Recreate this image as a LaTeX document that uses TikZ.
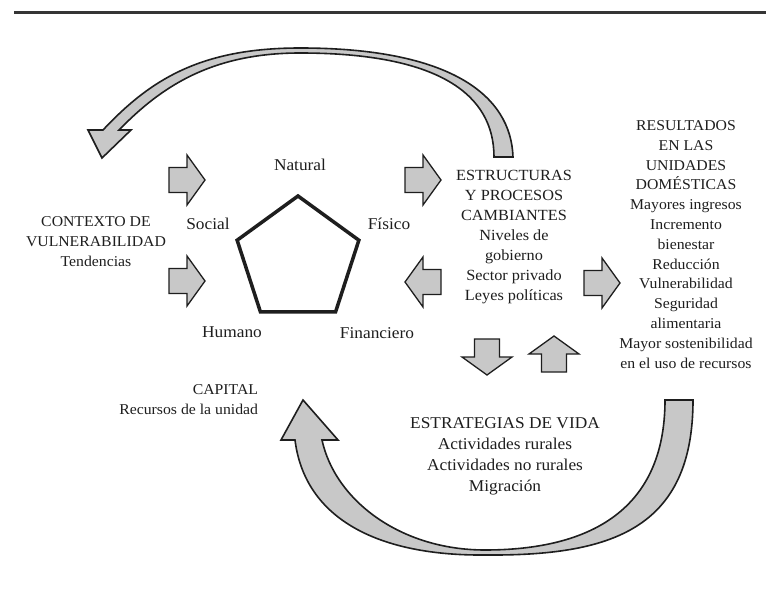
\documentclass[tikz,border=0pt]{standalone}
\usepackage{fontspec}
\setmainfont{Liberation Serif}[FakeStretch=1.05]
\usetikzlibrary{shapes.geometric}
\definecolor{arrowgray}{RGB}{200,200,200}
\definecolor{ink}{RGB}{30,30,30}
\tikzset{
  lbl/.style={font=\fontsize{15}{20}\selectfont, text=ink, inner sep=0pt, outer sep=0pt},
  caplbl/.style={lbl, font=\fontsize{16.5}{20}\selectfont},
  blockarrow/.style={fill=arrowgray, draw=ink, line width=1.3pt, line join=miter},
  bigarrow/.style={fill=arrowgray, draw=ink, line width=1.6pt, line join=miter},
  blk/.pic={\path[blockarrow] (-18,-12.5) -- (0,-12.5) -- (0,-25) -- (18,0) -- (0,25) -- (0,12.5) -- (-18,12.5) -- cycle;}
}
\begin{document}
\begin{tikzpicture}[x=1pt,y=-1pt]
\useasboundingbox (0,0) rectangle (766,591);
\fill[white] (0,0) rectangle (766,591);
% top rule
\draw[line width=3pt, ink!90] (14,13) -- (766,13);

% top curved arrow
\path[bigarrow] (513,157) .. controls (511,95) and (450,48) .. (300,48)
  .. controls (200,48) and (150,80) .. (103,130)
  -- (88,130) -- (102,158) -- (131,130) -- (119,130)
  .. controls (160,88) and (210,53) .. (300,53)
  .. controls (440,53) and (494,95) .. (494,157) -- cycle;

% bottom curved arrow
\path[bigarrow] (693,400) .. controls (693,530) and (610,556) .. (485,555)
  .. controls (380,556) and (305,520) .. (295,440)
  -- (281,440) -- (303,400) -- (338,440) -- (322,440)
  .. controls (335,500) and (400,550) .. (485,550)
  .. controls (590,550) and (665,510) .. (665,400) -- cycle;

% pentagon
\node[regular polygon, regular polygon sides=5, minimum size=128pt, draw=ink, line width=3.5pt, inner sep=0pt, outer sep=0pt] (pent) at (298,260) {};

% block arrows
\pic at (187,180) {blk};
\pic at (187,281) {blk};
\pic at (423,180) {blk};
\pic[rotate=180] at (423,282) {blk};
\pic at (602,283) {blk};
\pic[rotate=-90] at (487,357) {blk};
\pic[rotate=90] at (554,354) {blk};

% labels
\node[caplbl, anchor=base] (natural) at (300,171) {Natural};
\node[caplbl, anchor=base] (social) at (208,229) {Social};
\node[caplbl, anchor=base] (fisico) at (389,229) {Físico};
\node[caplbl, anchor=base] (humano) at (232,337) {Humano};
\node[caplbl, anchor=base] (financiero) at (377,338) {Financiero};

\node[lbl, align=center, anchor=north] (contexto) at (96,217) {CONTEXTO DE\\VULNERABILIDAD\\Tendencias};
\node[lbl, align=center, anchor=north, font=\fontsize{15.5}{20}\selectfont] (estructuras) at (514,170.7) {ESTRUCTURAS\\Y PROCESOS\\CAMBIANTES\\Niveles de\\gobierno\\Sector privado\\Leyes políticas};
\node[lbl, align=center, anchor=north, font=\fontsize{15}{19.8}\selectfont] (resultados) at (686,120.5) {RESULTADOS\\EN LAS\\UNIDADES\\DOMÉSTICAS\\Mayores ingresos\\Incremento\\bienestar\\Reducción\\Vulnerabilidad\\Seguridad\\alimentaria\\Mayor sostenibilidad\\en el uso de recursos};
\node[lbl, align=right, anchor=north east] (capital) at (258,385) {CAPITAL\\Recursos de la unidad};
\node[lbl, align=center, anchor=north, font=\fontsize{16.5}{20.7}\selectfont] (estrategias) at (505,418) {ESTRATEGIAS DE VIDA\\Actividades rurales\\Actividades no rurales\\Migración};
\end{tikzpicture}
\end{document}
